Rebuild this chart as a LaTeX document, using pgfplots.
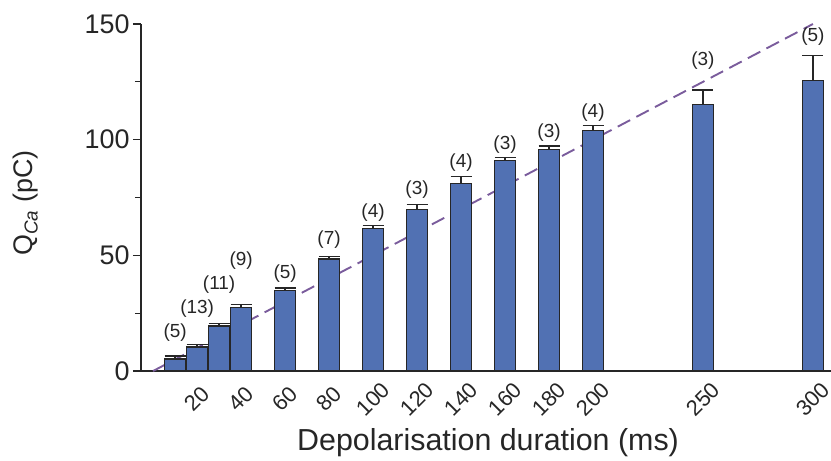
\documentclass[border=0pt]{standalone}
\usepackage{pgfplots}
\pgfplotsset{compat=1.18}
\usepackage{pgfplotstable}
\usepackage{fontspec}
\setmainfont{Liberation Sans}
\definecolor{barblue}{HTML}{5171B3}
\definecolor{dashpurple}{HTML}{7A5C9C}
\pgfplotstableread{
x y err
10 5.2 1.3
20 10.4 1.1
30 19.5 1.1
40 27.5 1.2
60 34.9 1.0
80 48.4 1.2
100 61.7 1.3
120 69.9 2.0
140 81.0 3.0
160 90.9 1.3
180 95.8 1.5
200 104.0 2.2
250 115.3 6.2
300 125.5 10.8
}\datatable
\begin{document}
\begin{tikzpicture}
\begin{axis}[
  scale only axis,
  width=690bp, height=347bp,
  xmin=-5.5, xmax=308.2,
  ymin=0, ymax=150,
  axis x line=bottom, axis y line=left,
  axis line style={-, line width=1.6bp, black!85},
  clip=false,
  xtick={20,40,60,80,100,120,140,160,180,200,250,300},
  xtick style={draw=none},
  xticklabel style={font=\fontsize{22}{22}\selectfont, anchor=center, yshift=-24bp, rotate=45, text=black!85},
  ytick={0,50,100,150},
  minor ytick={25,75,125},
  ytick align=outside,
  ytick style={line width=1.2bp, black!85},
  major tick length=8bp, minor tick length=6bp,
  yticklabel style={font=\fontsize{27}{27}\selectfont, text=black!85},
  /pgf/number format/assume math mode=true,
  xlabel={Depolarisation duration (ms)},
  xlabel style={font=\fontsize{30.5}{30.5}\selectfont, at={(axis description cs:0.503,-0.2075)}, anchor=center, text=black!85},
  ylabel={Q\textsubscript{\textit{Ca}} (pC)},
  ylabel style={font=\fontsize{27}{27}\selectfont, at={(axis description cs:-0.1667,0.484)}, anchor=center, text=black!85},
]
\addplot[dashpurple, line width=1.9bp, dash pattern=on 14bp off 7bp] coordinates {(0,0) (300,150)};
\addplot[ybar, bar width=21bp, fill=barblue, draw=black!85, line width=1.3bp,
  error bars/.cd, y dir=plus, y explicit,
  error bar style={line width=1.2bp, black!85},
  error mark options={line width=1.2bp, black!85, mark size=10.5bp, rotate=90}]
  table[x=x, y=y, y error=err] {\datatable};
\begin{scope}[every node/.style={font=\fontsize{19}{19}\selectfont, text=black!85}]
\node at (axis cs:10,16.4) {(5)};
\node at (axis cs:20,26.8) {(13)};
\node at (axis cs:30,37.2) {(11)};
\node at (axis cs:40,47.6) {(9)};
\node at (axis cs:60,41.9) {(5)};
\node at (axis cs:80,56.6) {(7)};
\node at (axis cs:100,68.3) {(4)};
\node at (axis cs:120,78.3) {(3)};
\node at (axis cs:140,89.9) {(4)};
\node at (axis cs:160,97.7) {(3)};
\node at (axis cs:180,102.9) {(3)};
\node at (axis cs:200,111.5) {(4)};
\node at (axis cs:250,134.0) {(3)};
\node at (axis cs:300,144.4) {(5)};
\end{scope}
\end{axis}
\pgfresetboundingbox
\useasboundingbox (-141bp,-90bp) rectangle (690bp,371bp);
\end{tikzpicture}
\end{document}
